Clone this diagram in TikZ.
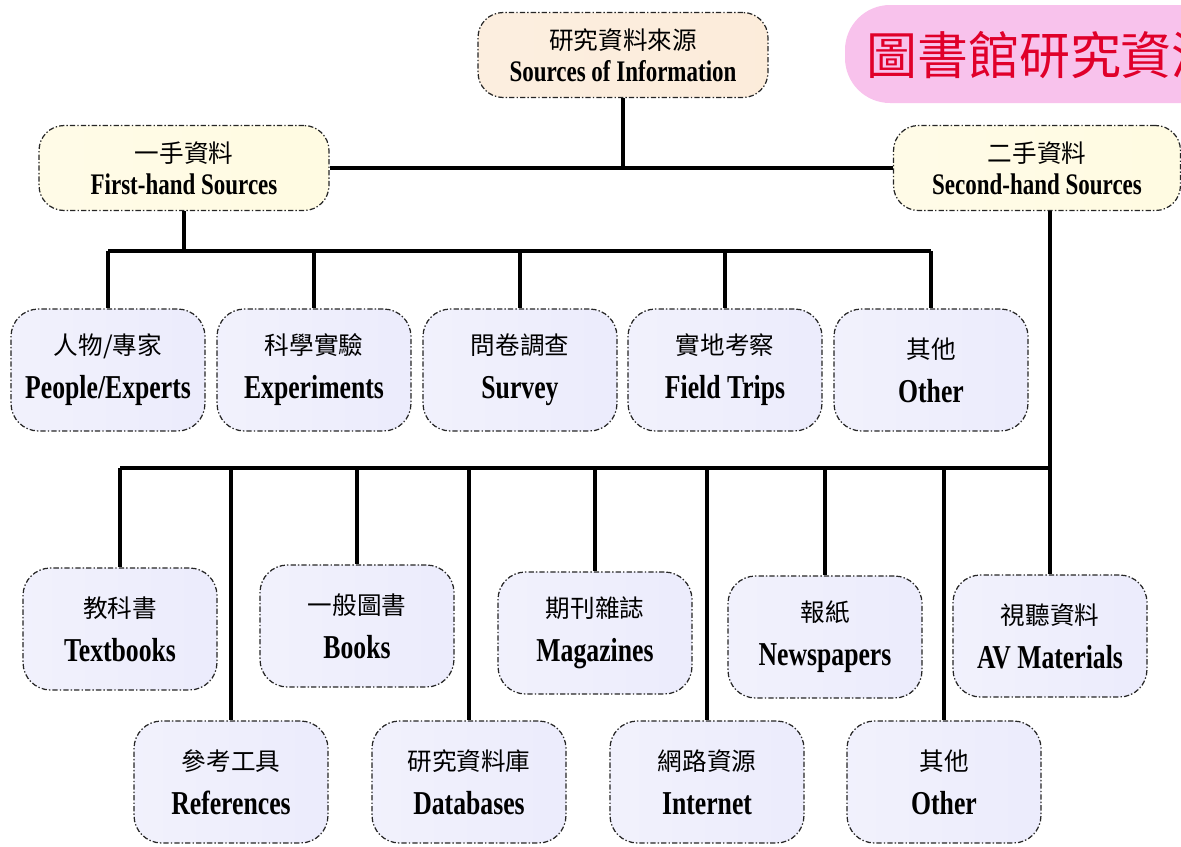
\documentclass[tikz,border=0pt]{standalone}
\usepackage{fontspec}
\setmainfont{Liberation Serif}[FakeStretch=0.77]
\newfontfamily\zhfont{Noto Sans CJK TC}
\usetikzlibrary{positioning}
\definecolor{lav}{HTML}{D8D8F8}
\definecolor{cream}{HTML}{FFF6C4}
\definecolor{peach}{HTML}{F5C896}
\definecolor{rosy}{HTML}{F8C2EC}
\definecolor{titlered}{HTML}{E0002A}
\newcommand{\zh}[1]{{\zhfont\mdseries\fontsize{14}{16}\selectfont #1}}
\tikzset{
  box/.style={rectangle, rounded corners=0.55cm, draw=black!85, line width=0.7pt,
    dash pattern=on 3pt off 1.2pt on 0.8pt off 1.2pt, align=center, inner sep=2pt},
  leaf/.style={box, minimum width=3.88cm, minimum height=2.44cm,
    left color=lav!35!white, middle color=lav, right color=lav!50!white,
    font=\bfseries\fontsize{19}{21}\selectfont},
  head/.style={box, minimum width=5.8cm, minimum height=1.7cm, rounded corners=0.5cm,
    left color=cream!40!white, middle color=cream, right color=cream!50!white,
    font=\bfseries\fontsize{17}{19}\selectfont},
  conn/.style={line width=2pt}
}
\begin{document}
\begin{tikzpicture}[x=0.02cm, y=-0.02cm]
  \useasboundingbox (0,0) rectangle (1181,846);

  % Titel rechts oben
  \begin{scope}
    \clip (0,0) rectangle (1181,846);
    \fill[rosy, rounded corners=0.9cm] (845,5) rectangle (1240,103);
    \node[anchor=west, text=titlered, font=\zhfont\fontsize{29}{31}\selectfont] (title) at (860,55) {圖書館研究資源};
  \end{scope}

  % Kopf
  \node[head, left color=peach!30!white, middle color=peach, right color=peach!35!white] (src) at (623,55) {\zh{研究資料來源}\\[-1pt] Sources of Information};
  \node[head] (first) at (184,168) {\zh{一手資料}\\[-1pt] First-hand Sources};
  \node[head, minimum width=5.74cm] (second) at (1037,168) {\zh{二手資料}\\[-1pt] Second-hand Sources};

  % erste Reihe
  \node[leaf] (people) at (108,370) {\zh{人物/專家}\\[4pt] People/Experts};
  \node[leaf] (expts) at (314,370) {\zh{科學實驗}\\[4pt] Experiments};
  \node[leaf] (survey) at (520,370) {\zh{問卷調查}\\[4pt] Survey};
  \node[leaf] (field) at (725,370) {\zh{實地考察}\\[4pt] Field Trips};
  \node[leaf] (other1) at (931,370) {\zh{其他}\\[4pt] Other};

  % zweite Reihe
  \node[leaf] (text) at (120,629) {\zh{教科書}\\[4pt] Textbooks};
  \node[leaf] (books) at (357,626) {\zh{一般圖書}\\[4pt] Books};
  \node[leaf] (mags) at (595,633) {\zh{期刊雜誌}\\[4pt] Magazines};
  \node[leaf] (news) at (825,637) {\zh{報紙}\\[4pt] Newspapers};
  \node[leaf] (av) at (1050,636) {\zh{視聽資料}\\[4pt] AV Materials};

  % dritte Reihe
  \node[leaf] (refs) at (231,782) {\zh{參考工具}\\[4pt] References};
  \node[leaf] (dbs) at (469,782) {\zh{研究資料庫}\\[4pt] Databases};
  \node[leaf] (net) at (707,782) {\zh{網路資源}\\[4pt] Internet};
  \node[leaf] (other2) at (944,782) {\zh{其他}\\[4pt] Other};

  % Verbindungen
  \coordinate (bus1) at (0,251);
  \coordinate (bus2) at (0,468);
  \draw[conn] (first.east) -- (second.west);
  \draw[conn] (src.south) -- (src.south |- first.east);
  \draw[conn] (first.south) -- (first.south |- bus1);
  \draw[conn] (people.north |- bus1) -- (other1.north |- bus1);
  \foreach \n in {people,expts,survey,field,other1}
    \draw[conn] (\n.north |- bus1) -- (\n.north);
  \draw[conn] (av.north |- second.south) -- (av.north);
  \draw[conn] (text.north |- bus2) -- (av.north |- bus2);
  \foreach \n in {text,books,mags,news,refs,dbs,net,other2}
    \draw[conn] (\n.north |- bus2) -- (\n.north);
\end{tikzpicture}
\end{document}
